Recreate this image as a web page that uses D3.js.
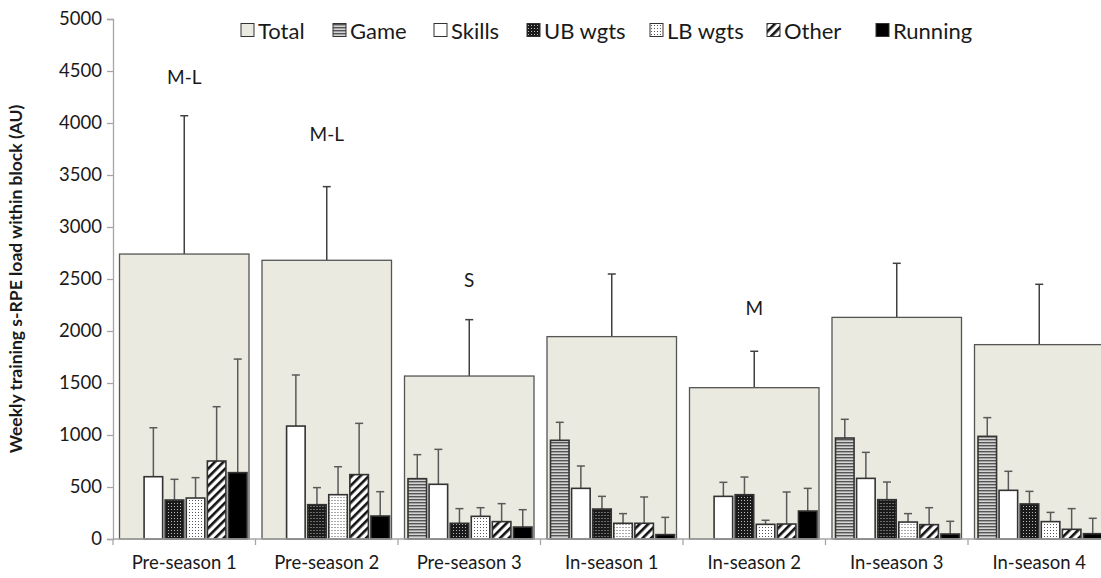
<!DOCTYPE html>
<html>
<head>
<meta charset="utf-8">
<script src="https://cdn.jsdelivr.net/npm/d3@7"></script>
<style>
  body { margin: 0; background: #fff; }
  svg { display: block; font-family: Lato, "Open Sans", sans-serif; }
</style>
</head>
<body>
<svg id="chart"></svg>
<script>
// block names and the series shown in each block
const categories = ["Pre-season 1", "Pre-season 2", "Pre-season 3", "In-season 1", "In-season 2", "In-season 3", "In-season 4"];
const seriesNames = ["Game", "Skills", "UB wgts", "LB wgts", "Other", "Running"];
const seriesKeys = ["game", "skills", "ub", "lb", "other", "running"];

// means and SD (AU)
const totalMean = [2740, 2680, 1567, 1946, 1455, 2131, 1869];
const totalSD   = [1330, 708, 542, 602, 350, 520, 580];

const gameMean    = [null, null, 580, 949, null, 971, 987];
const gameSD      = [null, null, 231, 173, null, 180, 180];
const skillsMean  = [599, 1086, 526, 487, 410, 583, 468];
const skillsSD    = [471, 491, 336, 215, 135, 250, 183];
const ubMean      = [375, 330, 151, 288, 426, 378, 337];
const ubSD        = [199, 164, 141, 122, 170, 170, 121];
const lbMean      = [394, 426, 218, 151, 141, 163, 167];
const lbSD        = [196, 269, 83, 93, 39, 81, 89];
const otherMean   = [750, 619, 167, 151, 144, 138, 93];
const otherSD     = [522, 493, 173, 253, 308, 163, 199];
const runningMean = [638, 221, 115, 42, 269, 48, 51];
const runningSD   = [1092, 234, 167, 166, 218, 122, 148];

// significance letters above blocks, and the value they sit at
const sigLabels = ["M-L", "M-L", "S", "", "M", "", ""];
const sigAt     = [4450, 3900, 2500, null, 2230, null, null];

const yTicks = [0, 500, 1000, 1500, 2000, 2500, 3000, 3500, 4000, 4500, 5000];

const means = { game: gameMean, skills: skillsMean, ub: ubMean, lb: lbMean, other: otherMean, running: runningMean };
const sds = { game: gameSD, skills: skillsSD, ub: ubSD, lb: lbSD, other: otherSD, running: runningSD };

const W = 1101, H = 578;
const margin = { left: 113, top: 19, bottom: 39 };
const plotW = 997.5;
const plotH = H - margin.top - margin.bottom;

const svg = d3.select("#chart").attr("width", W).attr("height", H);

// patterns for the series fills
const defs = svg.append("defs");

const pGame = defs.append("pattern").attr("id", "p-game")
  .attr("patternUnits", "userSpaceOnUse").attr("width", 4).attr("height", 3);
pGame.append("rect").attr("width", 4).attr("height", 3).attr("fill", "#d4d4d4");
pGame.append("rect").attr("width", 4).attr("height", 1.4).attr("fill", "#555");

const pUb = defs.append("pattern").attr("id", "p-ub")
  .attr("patternUnits", "userSpaceOnUse").attr("width", 3).attr("height", 3);
pUb.append("rect").attr("width", 3).attr("height", 3).attr("fill", "#1a1a1a");
pUb.append("rect").attr("x", 1).attr("y", 1).attr("width", 1).attr("height", 1).attr("fill", "#bbb");

const pLb = defs.append("pattern").attr("id", "p-lb")
  .attr("patternUnits", "userSpaceOnUse").attr("width", 3).attr("height", 3);
pLb.append("rect").attr("width", 3).attr("height", 3).attr("fill", "#fff");
pLb.append("rect").attr("x", 1).attr("y", 1).attr("width", 1).attr("height", 1).attr("fill", "#555");

const pOther = defs.append("pattern").attr("id", "p-other")
  .attr("patternUnits", "userSpaceOnUse").attr("width", 6).attr("height", 6)
  .attr("patternTransform", "rotate(45)");
pOther.append("rect").attr("width", 6).attr("height", 6).attr("fill", "#fff");
pOther.append("rect").attr("width", 2.6).attr("height", 6).attr("fill", "#111");

const fills = {
  total: "#ebeae0",
  game: "url(#p-game)",
  skills: "#fff",
  ub: "url(#p-ub)",
  lb: "url(#p-lb)",
  other: "url(#p-other)",
  running: "#000"
};

// scales
const x = d3.scaleBand().domain(categories).range([0, plotW]).padding(0);
const xTot = d3.scaleBand().domain(["t"]).range([6.5, x.bandwidth() - 6.5]);
const xSub = d3.scaleBand().domain(seriesKeys).range([10, 134]).paddingInner(0.12);
const y = d3.scaleLinear().domain([0, 5000]).range([plotH, 0]);

const g = svg.append("g").attr("transform", `translate(${margin.left},${margin.top})`);

// total bars
const tot = g.append("g").selectAll("g").data(categories).join("g")
  .attr("transform", d => `translate(${x(d)},0)`);

tot.append("line")
  .attr("x1", xTot("t") + xTot.bandwidth() / 2).attr("x2", xTot("t") + xTot.bandwidth() / 2)
  .attr("y1", (d, i) => y(totalMean[i])).attr("y2", (d, i) => y(totalMean[i] + totalSD[i]))
  .attr("stroke", "#404040").attr("stroke-width", 1.5);
tot.append("line")
  .attr("x1", xTot("t") + xTot.bandwidth() / 2 - 4).attr("x2", xTot("t") + xTot.bandwidth() / 2 + 4)
  .attr("y1", (d, i) => y(totalMean[i] + totalSD[i])).attr("y2", (d, i) => y(totalMean[i] + totalSD[i]))
  .attr("stroke", "#404040").attr("stroke-width", 1.5);
tot.append("rect")
  .attr("x", xTot("t")).attr("width", xTot.bandwidth())
  .attr("y", (d, i) => y(totalMean[i])).attr("height", (d, i) => y(0) - y(totalMean[i]))
  .attr("fill", fills.total).attr("stroke", "#555").attr("stroke-width", 1.3);

// component bars with error bars
categories.forEach((c, i) => {
  const cg = g.append("g").attr("transform", `translate(${x(c)},0)`);
  seriesKeys.forEach(k => {
    const m = means[k][i];
    if (m == null) return;
    const cx = xSub(k) + xSub.bandwidth() / 2;
    const top = y(m + sds[k][i]);
    cg.append("line").attr("x1", cx).attr("x2", cx).attr("y1", y(m)).attr("y2", top)
      .attr("stroke", "#595959").attr("stroke-width", 1.5);
    cg.append("line").attr("x1", cx - 4).attr("x2", cx + 4).attr("y1", top).attr("y2", top)
      .attr("stroke", "#595959").attr("stroke-width", 1.5);
    cg.append("rect")
      .attr("x", xSub(k)).attr("width", xSub.bandwidth())
      .attr("y", y(m)).attr("height", y(0) - y(m))
      .attr("fill", fills[k]).attr("stroke", "#333").attr("stroke-width", 1.6);
  });
  if (sigLabels[i]) {
    cg.append("text").attr("x", x.bandwidth() / 2).attr("y", y(sigAt[i]))
      .attr("text-anchor", "middle").attr("dominant-baseline", "central")
      .attr("font-size", 19).attr("fill", "#1a1a1a").text(sigLabels[i]);
  }
});

// y axis
const yAxis = g.append("g").call(d3.axisLeft(y).tickValues(yTicks).tickFormat(d3.format("d")).tickSize(6).tickPadding(5));
yAxis.selectAll("path, line").attr("stroke", "#a6a6a6").attr("stroke-width", 1.3);
yAxis.selectAll("text").attr("font-size", 18.5).attr("fill", "#1a1a1a").attr("font-family", "Lato, sans-serif");

// x axis: baseline, boundary ticks, centred labels
const xAxis = g.append("g").attr("transform", `translate(0,${plotH})`);
xAxis.append("line").attr("x1", 0).attr("x2", plotW).attr("stroke", "#a6a6a6").attr("stroke-width", 1.3);
xAxis.selectAll("line.tk").data(categories.concat(["end"])).join("line").attr("class", "tk")
  .attr("x1", d => d === "end" ? plotW : x(d)).attr("x2", d => d === "end" ? plotW : x(d))
  .attr("y1", 0).attr("y2", 6).attr("stroke", "#a6a6a6").attr("stroke-width", 1.3);
xAxis.selectAll("text").data(categories).join("text")
  .attr("x", d => x(d) + x.bandwidth() / 2).attr("y", 30)
  .attr("text-anchor", "middle").attr("font-size", 18.5).attr("fill", "#1a1a1a").text(d => d);

// y title
svg.append("text")
  .attr("transform", `translate(22,${margin.top + y(2500)}) rotate(-90)`)
  .attr("text-anchor", "middle").attr("font-size", 17.5).attr("font-weight", "bold")
  .attr("fill", "#1a1a1a").text("Weekly training s-RPE load within block (AU)");

// legend, boxes placed where the original puts them
const legendItems = [{ key: "total", name: "Total" }].concat(seriesKeys.map((k, i) => ({ key: k, name: seriesNames[i] })));
const legendX = [241, 333, 434, 527, 650, 767, 876];
const legend = svg.append("g").attr("transform", "translate(0,30)");
legendItems.forEach((it, i) => {
  const item = legend.append("g").attr("transform", `translate(${legendX[i]},0)`);
  item.append("rect").attr("x", 0).attr("y", -6.5).attr("width", 13).attr("height", 13)
    .attr("fill", fills[it.key]).attr("stroke", "#333").attr("stroke-width", 1);
  item.append("text").attr("x", 17).attr("y", 0).attr("dominant-baseline", "central")
    .attr("font-size", 22).attr("fill", "#1a1a1a").text(it.name);
});
</script>
</body>
</html>
